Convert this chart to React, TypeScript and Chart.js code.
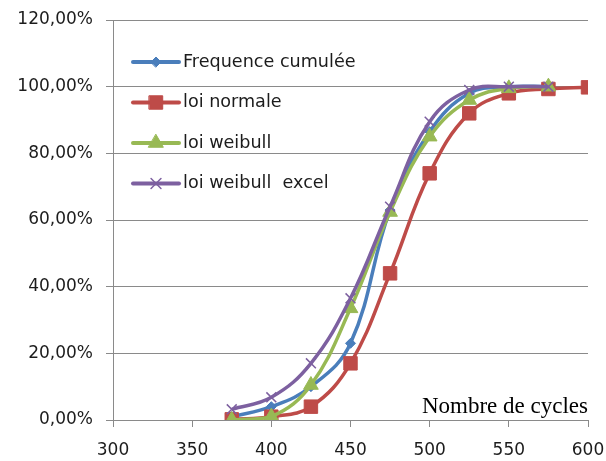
import React, { useEffect, useRef } from "react";
import { Chart, registerables } from "chart.js";
import { drawPoint } from "chart.js/helpers";

Chart.register(...registerables);

const cycles = [375, 400, 425, 450, 475, 500, 525, 550, 575, 600];
const seriesNames = ["Frequence cumulée", "loi normale", "loi weibull", "loi weibull  excel"];
const freqCumulee = [0.01, 0.04, 0.1, 0.23, 0.63, 0.865, 0.98, 1.0, 1.0];
const loiNormale = [0.002, 0.01, 0.04, 0.17, 0.44, 0.74, 0.92, 0.98, 0.993, 0.998];
const loiWeibull = [0.0, 0.01, 0.105, 0.335, 0.624, 0.85, 0.96, 0.995, 1.0];
const loiWeibullExcel = [0.032, 0.068, 0.17, 0.365, 0.64, 0.895, 0.99, 1.0, 1.0];
const colors = ["#4a7ebb", "#be4b48", "#98b954", "#7d60a0"];
const axisTitle = "Nombre de cycles";

const toPoints = (vals: number[]) => vals.map((v, i) => ({ x: cycles[i], y: v }));

const TEXT = "#1c1c1c";
const GRID = "#8a8a8a";
const FONT = "'DejaVu Sans', sans-serif";

const legendPlugin = {
  id: "insideLegend",
  afterDatasetsDraw(chart: any) {
    const { ctx, chartArea } = chart;
    ctx.save();
    chart.data.datasets.forEach((ds: any, i: number) => {
      const y = chartArea.top + 42 + i * 40.5;
      const x0 = chartArea.left + 20;
      const x1 = x0 + 46;
      ctx.strokeStyle = ds.borderColor;
      ctx.lineWidth = 4;
      ctx.lineCap = "round";
      ctx.beginPath();
      ctx.moveTo(x0, y);
      ctx.lineTo(x1, y);
      ctx.stroke();
      ctx.fillStyle = ds.pointBackgroundColor;
      ctx.strokeStyle = ds.pointBorderColor;
      ctx.lineWidth = ds.pointBorderWidth;
      drawPoint(
        ctx,
        { pointStyle: ds.pointStyle, radius: ds.pointRadius, borderWidth: ds.pointBorderWidth, rotation: 0 } as any,
        (x0 + x1) / 2,
        y
      );
      ctx.fillStyle = TEXT;
      ctx.font = `17.6px ${FONT}`;
      ctx.textAlign = "left";
      ctx.textBaseline = "middle";
      ctx.fillText(ds.label, x1 + 4, y);
    });
    ctx.font = "23px 'Liberation Serif', serif";
    ctx.fillStyle = "#000";
    ctx.textAlign = "right";
    ctx.textBaseline = "alphabetic";
    ctx.fillText(axisTitle, chartArea.right, chartArea.bottom - 7);
    ctx.restore();
  },
};

export default function App() {
  const ref = useRef<HTMLCanvasElement>(null);
  useEffect(() => {
    document.body.style.margin = "0";
    if (!ref.current) return;
    const mk = (i: number, vals: number[], style: string, radius: number, bw: number, order: number) => ({
      label: seriesNames[i],
      data: toPoints(vals),
      borderColor: colors[i],
      backgroundColor: colors[i],
      borderWidth: 3.5,
      pointStyle: style,
      pointRadius: radius,
      pointBackgroundColor: colors[i],
      pointBorderColor: colors[i],
      pointBorderWidth: bw,
      tension: 0.4,
      order,
    });
    const chart = new Chart(ref.current, {
      type: "line",
      data: {
        datasets: [
          mk(0, freqCumulee, "rectRot", 5, 1, 3),
          mk(1, loiNormale, "rect", 9.5, 1, 2),
          mk(2, loiWeibull, "triangle", 8.5, 1, 1),
          mk(3, loiWeibullExcel, "crossRot", 7, 1.5, 0),
        ] as any,
      },
      options: {
        animation: false,
        responsive: false,
        layout: { padding: { left: 0, right: 18, top: 20, bottom: 0 } },
        plugins: { legend: { display: false }, tooltip: { enabled: false } },
        scales: {
          x: {
            type: "linear",
            min: 300,
            max: 600,
            ticks: { stepSize: 50, color: TEXT, font: { family: FONT, size: 17 }, padding: 13, maxRotation: 0 },
            grid: { drawOnChartArea: false, drawTicks: true, tickLength: 7, color: GRID },
            border: { color: GRID, width: 1 },
            afterFit: (s: any) => {
              s.height = 41;
              s.paddingLeft = 0;
              s.paddingRight = 0;
            },
          },
          y: {
            min: 0,
            max: 1.2,
            ticks: {
              stepSize: 0.2,
              color: TEXT,
              font: { family: FONT, size: 17 },
              padding: 13,
              callback: (v: any) => (Number(v) * 100).toFixed(2).replace(".", ",") + "%",
            },
            grid: { color: GRID, tickLength: 7 },
            border: { color: GRID, width: 1 },
            afterFit: (s: any) => {
              s.width = 113;
              s.paddingTop = 0;
              s.paddingBottom = 0;
            },
          },
        },
      },
      plugins: [legendPlugin],
    });
    return () => chart.destroy();
  }, []);
  return (
    <div style={{ width: 606, height: 461 }}>
      <canvas ref={ref} width={606} height={461} />
    </div>
  );
}
